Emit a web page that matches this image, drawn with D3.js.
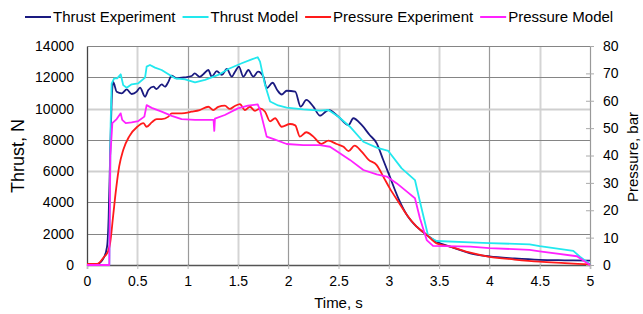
<!DOCTYPE html>
<html>
<head>
<meta charset="utf-8">
<script src="https://cdn.jsdelivr.net/npm/d3@7"></script>
<style>
  body { margin: 0; background: #fff; }
  svg text { font-family: "Liberation Sans", Arial, sans-serif; fill: #000; }
</style>
</head>
<body>
<svg id="chart" width="643" height="314"></svg>
<script>
// series names and colours
const seriesNames = ["Thrust Experiment", "Thrust Model", "Pressure Experiment", "Pressure Model"];
const seriesColors = ["#1a1a80", "#22e8ee", "#ff1a1a", "#ff22ff"];

// tick labels
const timeTicks = [0, 0.5, 1, 1.5, 2, 2.5, 3, 3.5, 4, 4.5, 5];
const thrustTicks = [0, 2000, 4000, 6000, 8000, 10000, 12000, 14000];
const pressureTicks = [0, 10, 20, 30, 40, 50, 60, 70, 80];

// Thrust Experiment (s, N)
const thrustExpTime = [0, 0.1, 0.17, 0.2, 0.215, 0.23, 0.245, 0.26, 0.295, 0.345, 0.395, 0.444, 0.494, 0.527, 0.577, 0.61, 0.66, 0.69, 0.742, 0.775, 0.81, 0.84, 0.89, 0.975, 1.04, 1.07, 1.12, 1.156, 1.206, 1.24, 1.29, 1.34, 1.39, 1.44, 1.47, 1.51, 1.554, 1.604, 1.653, 1.70, 1.753, 1.786, 1.845, 1.89, 1.935, 1.985, 2.07, 2.124, 2.18, 2.25, 2.316, 2.4, 2.5, 2.6, 2.647, 2.73, 2.81, 2.88, 2.945, 3.01, 3.095, 3.18, 3.277, 3.377, 3.476, 3.61, 3.81, 4.0, 4.25, 4.5, 4.75, 5.0];
const thrustExpVal = [60, 60, 500, 1200, 3000, 7000, 10500, 11700, 11080, 10975, 11230, 10930, 11080, 11335, 10760, 11190, 11400, 11250, 11550, 11400, 11720, 12100, 11935, 12000, 12080, 12250, 12030, 12190, 12465, 12040, 12400, 12150, 12530, 12040, 12340, 12680, 12040, 12465, 12040, 12360, 12040, 11300, 11650, 11190, 10900, 11140, 11080, 10120, 10550, 10120, 9545, 9910, 9480, 8950, 9380, 8950, 8310, 7780, 6710, 5645, 4265, 3200, 2450, 1920, 1490, 1170, 750, 550, 420, 330, 300, 280];

// Thrust Model (s, N)
const thrustModTime = [0, 0.222, 0.235, 0.245, 0.27, 0.3, 0.335, 0.36, 0.395, 0.444, 0.51, 0.577, 0.593, 0.626, 0.676, 0.742, 0.81, 0.875, 0.975, 1.074, 1.173, 1.305, 1.405, 1.538, 1.637, 1.697, 1.72, 1.77, 1.82, 1.9, 1.985, 2.15, 2.316, 2.4, 2.5, 2.614, 2.747, 2.88, 2.995, 3.128, 3.26, 3.31, 3.393, 3.476, 3.81, 4.0, 4.4, 4.5, 4.834, 4.9, 5.0];
const thrustModVal = [0, 0, 9000, 11600, 11935, 11935, 12190, 11500, 11335, 11550, 11615, 11975, 12680, 12785, 12615, 12465, 12190, 11935, 11870, 11680, 11830, 12150, 12530, 12895, 13150, 13280, 13000, 11500, 10450, 10200, 10060, 9950, 9865, 9910, 9480, 8840, 7880, 7500, 7290, 6180, 5430, 4045, 1810, 1535, 1450, 1400, 1320, 1200, 900, 530, 50];

// Pressure Experiment (s, bar)
const pressExpTime = [0, 0.1, 0.17, 0.21, 0.23, 0.26, 0.29, 0.32, 0.36, 0.42, 0.5, 0.56, 0.593, 0.643, 0.693, 0.742, 0.81, 0.842, 0.94, 1.04, 1.12, 1.206, 1.255, 1.305, 1.37, 1.42, 1.47, 1.52, 1.57, 1.62, 1.67, 1.72, 1.77, 1.82, 1.87, 1.935, 2.018, 2.07, 2.117, 2.18, 2.25, 2.33, 2.4, 2.48, 2.55, 2.6, 2.66, 2.73, 2.8, 2.88, 2.945, 3.01, 3.095, 3.18, 3.277, 3.377, 3.476, 3.61, 3.81, 4.0, 4.25, 4.5, 4.75, 5.0];
const pressExpVal = [0.4, 0.4, 3, 5, 8, 18, 28, 36, 42, 47, 50.5, 51.8, 50.5, 52.1, 53.3, 53.3, 54.2, 55.4, 55.4, 56, 56.6, 57.8, 56.6, 57.8, 58.2, 57, 58.1, 58.8, 56.6, 57.8, 56.3, 57.2, 56, 52.5, 53.6, 50.5, 51.5, 51, 46.9, 48.5, 46.9, 44.2, 45.4, 44.2, 43.2, 41.6, 43.6, 41.4, 38.4, 36.5, 32.3, 28, 23.1, 18.3, 14, 11, 7.9, 6.7, 4.5, 3.0, 2.0, 1.2, 0.7, 0.2];

// Pressure Model (s, bar)
const pressModTime = [0, 0.222, 0.232, 0.252, 0.295, 0.335, 0.35, 0.385, 0.444, 0.51, 0.57, 0.593, 0.643, 0.742, 0.842, 0.94, 1.074, 1.24, 1.258, 1.265, 1.272, 1.37, 1.5, 1.6, 1.697, 1.72, 1.786, 1.87, 1.985, 2.15, 2.316, 2.415, 2.48, 2.614, 2.747, 2.88, 2.98, 3.08, 3.18, 3.26, 3.31, 3.377, 3.44, 3.81, 4.0, 4.4, 4.5, 4.87, 5.0];
const pressModVal = [0, 0, 40, 51.8, 53.3, 55.4, 53, 51.8, 52.1, 52.6, 54.2, 58.4, 57.4, 56, 54.5, 53.3, 53, 53, 53, 49, 53.5, 54.8, 57.2, 58.2, 58.7, 56.6, 46.9, 45.8, 44.2, 43.8, 43.8, 43.2, 41.6, 38.4, 34.7, 33.1, 32.3, 29.8, 26.8, 24.4, 17, 9.1, 7, 6.7, 6.2, 5.5, 5.0, 3.2, 0];

const svg = d3.select("#chart");
const margin = { top: 46, right: 53, bottom: 49, left: 87 };
const width = 643 - margin.left - margin.right;
const height = 314 - margin.top - margin.bottom;

const g = svg.append("g").attr("transform", `translate(${margin.left},${margin.top})`);

const x = d3.scaleLinear().domain([0, 5]).range([0, width]);
const yT = d3.scaleLinear().domain([0, 14000]).range([height, 0]);
const yP = d3.scaleLinear().domain([0, 80]).range([height, 0]);

// vertical grid
g.append("g").selectAll("line")
  .data(timeTicks.filter(d => d > 0 && d < 5))
  .join("line")
  .attr("x1", d => Math.round(x(d)) + 0.5)
  .attr("x2", d => Math.round(x(d)) + 0.5)
  .attr("y1", 0).attr("y2", height)
  .attr("stroke", d => d % 1 === 0 ? "#9a9a9a" : "#d4d4d4")
  .attr("stroke-width", d => d % 1 === 0 ? 1.2 : 2);

// horizontal grid
g.append("g").selectAll("line")
  .data(thrustTicks.filter(d => d > 0))
  .join("line")
  .attr("x1", 0).attr("x2", width)
  .attr("y1", d => Math.round(yT(d)) + 0.5)
  .attr("y2", d => Math.round(yT(d)) + 0.5)
  .attr("stroke", d => (d === 6000 || d === 10000) ? "#cfcfcf" : "#858585")
  .attr("stroke-width", d => (d === 6000 || d === 10000) ? 2 : 1.2);

// axes
const xAxis = g.append("g")
  .attr("transform", `translate(0,${height})`)
  .call(d3.axisBottom(x).tickValues(timeTicks).tickSize(4).tickPadding(7).tickFormat(d => String(d)));
xAxis.select(".domain").attr("stroke", "#555").attr("stroke-width", 1.3);
xAxis.selectAll(".tick line").attr("stroke", "#bbb");
xAxis.selectAll("text").style("font-size", "14px");

const yAxisL = g.append("g")
  .call(d3.axisLeft(yT).tickValues(thrustTicks).tickSize(0).tickPadding(13).tickFormat(d3.format("d")));
yAxisL.select(".domain").attr("stroke", "#444").attr("stroke-width", 1.3);
yAxisL.selectAll("text").style("font-size", "14px");

const yAxisR = g.append("g")
  .attr("transform", `translate(${width},0)`)
  .call(d3.axisRight(yP).tickValues(pressureTicks).tickSize(4).tickPadding(9));
yAxisR.select(".domain").attr("stroke", "#999").attr("stroke-width", 1.2);
yAxisR.selectAll(".tick line").attr("x1", -4).attr("stroke", "#aaa");
yAxisR.selectAll("text").style("font-size", "14px");

// top border
g.append("line")
  .attr("x1", 0).attr("x2", width).attr("y1", 0.5).attr("y2", 0.5)
  .attr("stroke", "#858585").attr("stroke-width", 1.2);

// series lines (experiments smoothed, models straight segments)
const thrustLine = c => d3.line().curve(c).x(d => x(d[0])).y(d => yT(d[1]));
const pressLine = c => d3.line().curve(c).x(d => x(d[0])).y(d => yP(d[1]));

const series = [
  { pts: d3.zip(thrustExpTime, thrustExpVal), line: thrustLine(d3.curveMonotoneX) },
  { pts: d3.zip(thrustModTime, thrustModVal), line: thrustLine(d3.curveLinear) },
  { pts: d3.zip(pressExpTime, pressExpVal), line: pressLine(d3.curveMonotoneX) },
  { pts: d3.zip(pressModTime, pressModVal), line: pressLine(d3.curveLinear) }
];

series.forEach((s, i) => {
  g.append("path")
    .attr("d", s.line(s.pts))
    .attr("fill", "none")
    .attr("stroke", seriesColors[i])
    .attr("stroke-width", 1.8)
    .attr("stroke-linejoin", "round");
});

// axis titles
svg.append("text")
  .attr("transform", "translate(24,156) rotate(-90)")
  .attr("text-anchor", "middle")
  .style("font-size", "18px")
  .text("Thrust, N");

svg.append("text")
  .attr("transform", "translate(638,157) rotate(-90)")
  .attr("text-anchor", "middle")
  .style("font-size", "15px")
  .text("Pressure, bar");

svg.append("text")
  .attr("x", x(2.5) + margin.left)
  .attr("y", 308)
  .attr("text-anchor", "middle")
  .style("font-size", "15px")
  .text("Time, s");

// legend
const legend = svg.append("g").attr("transform", "translate(25,17)");
let lx = 0;
seriesNames.forEach((name, i) => {
  legend.append("line")
    .attr("x1", lx).attr("x2", lx + 26)
    .attr("y1", 0).attr("y2", 0)
    .attr("stroke", seriesColors[i]).attr("stroke-width", 2);
  const t = legend.append("text")
    .attr("x", lx + 28).attr("y", 5)
    .style("font-size", "15px")
    .text(name);
  lx += 28 + t.node().getComputedTextLength() + 7;
});
</script>
</body>
</html>
